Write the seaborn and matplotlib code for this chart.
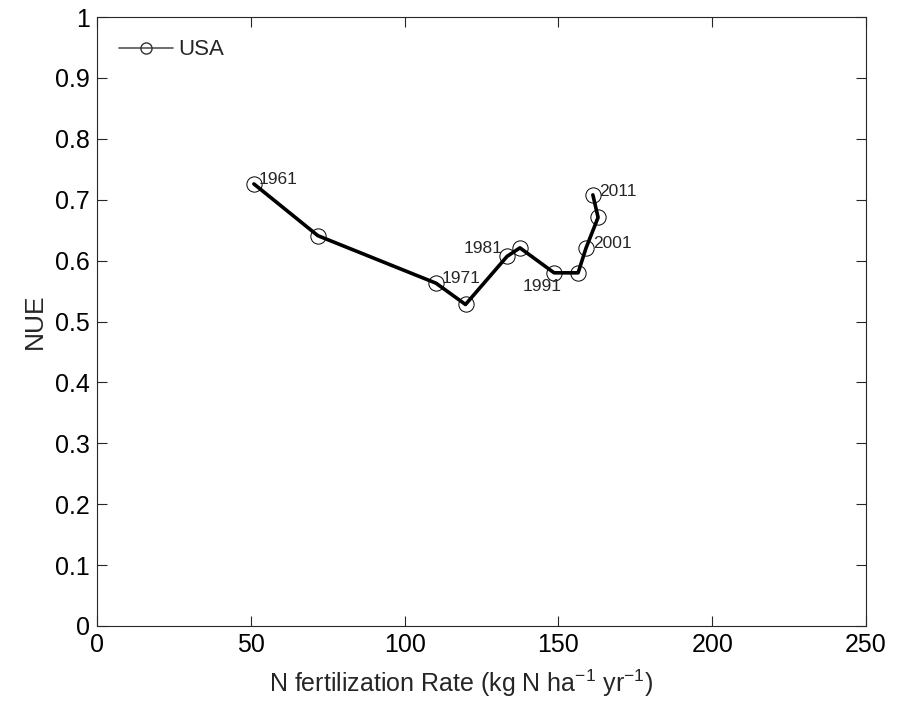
import pandas as pd
import matplotlib.pyplot as plt
import seaborn as sns
from matplotlib.lines import Line2D

# USA nitrogen use efficiency vs fertilization rate
n_rate = [51.0, 71.8, 110.2, 119.8, 133.3, 137.5, 148.6, 156.4, 159.0, 162.9, 161.2]
nue = [0.726, 0.641, 0.563, 0.528, 0.607, 0.621, 0.580, 0.580, 0.621, 0.671, 0.708]
years = [1961, None, 1971, None, 1981, None, 1991, None, 2001, None, 2011]

df = pd.DataFrame({"rate": n_rate, "nue": nue, "year": years})

sns.set_style("ticks")
plt.rcParams['font.family'] = ['Liberation Sans', 'DejaVu Sans']
plt.rcParams['mathtext.default'] = 'regular'

fig = plt.figure(figsize=(9.11, 7.12), dpi=100)
ax = fig.add_axes([0.1065, 0.1208, 0.8441, 0.8552])

sns.lineplot(data=df, x="rate", y="nue", sort=False, color="black", linewidth=2.6,
             marker="o", markersize=11, markerfacecolor="none", markeredgecolor="black",
             markeredgewidth=0.7, ax=ax)

# year labels (offsets in points)
offsets = {1961: (3.6, 3, "left"), 1971: (4, 3.6, "left"),
           1981: (-3, 5.8, "right"), 1991: (-8.6, -10, "center"),
           2001: (5, 3.2, "left"), 2011: (4.3, 2.3, "left")}
for _, r in df.dropna().iterrows():
    dx, dy, ha = offsets[int(r["year"])]
    ax.annotate(str(int(r["year"])), (r["rate"], r["nue"]), xytext=(dx, dy),
                textcoords="offset points", ha=ha, va="center", fontsize=12.5)

ax.set_xlim(0, 250)
ax.set_ylim(0, 1)
ax.set_xticks([0, 50, 100, 150, 200, 250])
ax.set_yticks([i / 10 for i in range(11)])
ax.set_yticklabels(["0"] + [f"{i/10:.1f}" for i in range(1, 10)] + ["1"])
ax.tick_params(direction="in", top=True, right=True, labelsize=18, length=7, width=0.8,
               color="#262626", labelcolor="black", pad=5)
for s in ax.spines.values():
    s.set_color("#262626")
    s.set_linewidth(0.8)
ax.set_xlabel("N fertilization Rate (kg N ha$^{-1}$ yr$^{-1}$)", fontsize=18, labelpad=8)
ax.xaxis.set_label_coords(0.473, -0.069)
ax.set_ylabel("NUE", fontsize=19, labelpad=6)

handle = Line2D([], [], color="#555555", linewidth=1.2, marker="o", markersize=8,
                markerfacecolor="none", markeredgecolor="#333333", markeredgewidth=1)
ax.legend([handle], ["USA"], loc="upper left", frameon=False, fontsize=16,
          handlelength=2.4, handletextpad=0.25, borderaxespad=0.6)

fig.savefig("out.png", dpi=100)
